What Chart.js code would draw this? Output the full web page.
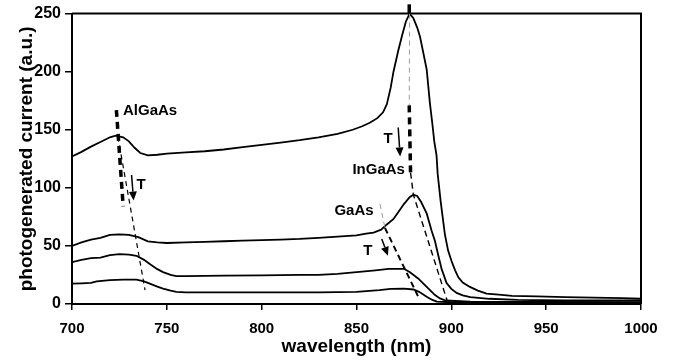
<!DOCTYPE html>
<html>
<head>
<meta charset="utf-8">
<script src="https://cdn.jsdelivr.net/npm/chart.js@4.4.1/dist/chart.umd.min.js"></script>
<style>
html,body{margin:0;padding:0;background:#fff;}
canvas{display:block;}
</style>
</head>
<body>
<canvas id="c" width="682" height="363"></canvas>
<script>
// ---- data (wavelength nm, photocurrent a.u.) ----
const xTicks = [700, 750, 800, 850, 900, 950, 1000];
const yTicks = [0, 50, 100, 150, 200, 250];

const curve1 = [[700,127],[705,131],[710,135.5],[715,139.5],[720,143.5],[723,145],[727,143.5],[730,140],[733,134.5],[736,130],[740,128],[745,128.5],[750,129.5],[760,130.5],[770,131.5],[780,133],[790,135],[800,137],[810,139],[820,141],[830,143.5],[840,146.5],[848,150],[853,153],[857,156],[861,160],[864,165],[866,172],[868,186],[869.5,200],[872,218],[874,231],[876,243],[878,250],[880,246],[882,238],[883.5,230],[885,218],[887,202],[888.7,173],[890,155],[891,140],[892.2,128],[892.8,112],[894.4,88],[896.6,60],[898.3,46],[900.1,37],[902,29],[903.7,23],[906,18.5],[909.8,14.7],[914,11.5],[918.6,9],[925,8],[932,7],[945,6.5],[960,6],[975,5.5],[990,5],[1000,4.5]];

const curve2 = [[700,50],[705,53],[710,55.5],[715,57],[720,59.5],[725,60],[730,59.5],[735,57.5],[740,54],[745,53],[750,52.5],[760,53],[770,53.5],[780,54],[790,54.5],[800,55],[810,55.5],[820,56],[830,57],[840,58],[850,59],[855,60.5],[859,61.5],[863,64],[866,68.5],[869.4,73],[872,79],[875,86],[878,92],[880,94],[882,93],[884,88],[887,78],[889.6,63],[891.4,54],[893.1,42],[894.9,30],[897.5,18],[900,13],[902.8,9.5],[906,7.5],[910,6],[920,4.5],[935,3.5],[960,3],[1000,3]];

const curve3 = [[700,36],[705,38],[710,39.5],[715,40],[720,42],[725,43],[730,42.5],[734,41.5],[738,38],[741,34.5],[745,30],[748,27.5],[752,25],[755,24],[760,24],[780,24.5],[800,24.7],[820,25],[830,25],[840,26],[850,27.5],[860,29],[867,30.3],[875,30.3],[878,27.5],[882.5,22],[887,14.7],[891.4,7.7],[894,4.8],[897,3],[910,2],[1000,1.5]];

const curve4 = [[700,17.5],[705,17.8],[710,18.2],[713,19.5],[720,20.5],[727,21],[734,21],[738,19.5],[741,17.6],[745,15],[748,13.3],[752,11.5],[755,10.5],[760,10],[780,10],[800,10],[830,10],[850,10.5],[862,12],[868,13],[875,13.3],[880,12.5],[883,10.5],[887,6.2],[890,3.5],[892.3,2],[900,1.5],[1000,1]];

// annotation guides (data units)
const algaasThick = [[723.4,167],[727,84]];
const algaasThin  = [[724.2,144],[738.5,12]];
const ingaasTop   = [[877.8,258],[877.8,250]];
const ingaasGrey  = [[878,250],[877.8,171]];
const ingaasThick = [[877.8,171],[878.5,113]];
const ingaasThin  = [[878.5,113],[880,94],[897.7,3.4]];
const gaasGrey    = [[862.4,86],[865,65.5]];
const gaasDash    = [[865,65.5],[882.4,6.8]];
const arrowsT     = [[[731.4,111],[732.5,89]], [[872,152],[873,127]], [[863.3,56],[866.6,41.5]]];
const labelT      = [[736.4,102.7],[866.6,142],[856,46]];
const labelNames  = ['AlGaAs', 'InGaAs', 'GaAs'];
const labelPos    = [[726.9,166.7],[861.7,115.6],[848.7,80]];

const FONT = '"Liberation Sans", Arial, Helvetica, sans-serif';
const toPts = a => a.map(p => ({x: p[0], y: p[1]}));

const mkSet = (d) => ({data: toPts(d), borderColor: '#000', borderWidth: 1.8, pointRadius: 0, fill: false, tension: 0});

const framePlugin = {
  id: 'frame',
  afterDatasetsDraw(chart) {
    const {ctx, chartArea: a} = chart;
    ctx.save();
    ctx.strokeStyle = '#000';
    ctx.lineWidth = 2;
    ctx.beginPath();
    ctx.moveTo(a.left, a.top);
    ctx.lineTo(a.right, a.top);
    ctx.lineTo(a.right, a.bottom);
    ctx.stroke();
    ctx.restore();
  }
};

const annoPlugin = {
  id: 'anno',
  afterDatasetsDraw(chart) {
    const {ctx} = chart;
    const xs = chart.scales.x, ys = chart.scales.y;
    const P = p => [xs.getPixelForValue(p[0]), ys.getPixelForValue(p[1])];
    const poly = (pts, w, dash, col) => {
      ctx.save();
      ctx.strokeStyle = col || '#000';
      ctx.lineWidth = w;
      ctx.setLineDash(dash);
      ctx.beginPath();
      pts.forEach((p, i) => { const q = P(p); i ? ctx.lineTo(q[0], q[1]) : ctx.moveTo(q[0], q[1]); });
      ctx.stroke();
      ctx.restore();
    };
    poly(algaasThin, 1.2, [5, 4]);
    poly(algaasThick, 3.5, [7, 5]);
    poly(ingaasGrey, 1, [5, 4], '#9a9a9a');
    poly(ingaasTop, 3.5, []);
    poly(ingaasThick, 3.5, [7, 5]);
    poly(ingaasThin, 1.4, [6, 4]);
    poly(gaasGrey, 1, [5, 4], '#9a9a9a');
    poly(gaasDash, 2, [6, 4]);
    // arrows
    arrowsT.forEach(seg => {
      const a = P(seg[0]), b = P(seg[1]);
      const ang = Math.atan2(b[1] - a[1], b[0] - a[0]);
      const hl = 9, hw = 4;
      ctx.save();
      ctx.strokeStyle = '#000'; ctx.fillStyle = '#000'; ctx.lineWidth = 1.5;
      ctx.beginPath();
      ctx.moveTo(a[0], a[1]);
      ctx.lineTo(b[0] - hl * Math.cos(ang), b[1] - hl * Math.sin(ang));
      ctx.stroke();
      ctx.beginPath();
      ctx.moveTo(b[0], b[1]);
      ctx.lineTo(b[0] - hl * Math.cos(ang) + hw * Math.sin(ang), b[1] - hl * Math.sin(ang) - hw * Math.cos(ang));
      ctx.lineTo(b[0] - hl * Math.cos(ang) - hw * Math.sin(ang), b[1] - hl * Math.sin(ang) + hw * Math.cos(ang));
      ctx.closePath();
      ctx.fill();
      ctx.restore();
    });
    // labels
    ctx.save();
    ctx.fillStyle = '#000';
    ctx.font = 'bold 15px ' + FONT;
    ctx.textBaseline = 'middle';
    labelNames.forEach((t, i) => {
      const q = P(labelPos[i]);
      ctx.textAlign = i === 0 ? 'left' : 'center';
      ctx.fillText(t, q[0], q[1]);
    });
    ctx.textAlign = 'center';
    labelT.forEach(p => { const q = P(p); ctx.fillText('T', q[0], q[1]); });
    ctx.restore();
  }
};

new Chart(document.getElementById('c'), {
  type: 'line',
  data: { datasets: [mkSet(curve1), mkSet(curve2), mkSet(curve3), mkSet(curve4)] },
  options: {
    responsive: false,
    animation: false,
    layout: { padding: { top: 10, right: 41, left: 0, bottom: 0 } },
    plugins: { legend: { display: false }, tooltip: { enabled: false } },
    scales: {
      x: {
        type: 'linear', min: 700, max: 1000,
        afterBuildTicks: s => { s.ticks = xTicks.map(v => ({value: v})); },
        afterFit: s => { s.height = 59; },
        grid: { display: true, drawOnChartArea: false, drawTicks: true, tickLength: 6, color: '#000', lineWidth: 1.5 },
        border: { display: true, color: '#000', width: 2 },
        ticks: { color: '#000', padding: 10, maxRotation: 0, callback: v => String(v), font: { family: FONT, size: 15, weight: 'bold' } },
        title: { display: true, text: 'wavelength (nm)', color: '#000', padding: { top: 0, bottom: 5 }, font: { family: FONT, size: 19, weight: 'bold' } }
      },
      y: {
        type: 'linear', min: 0, max: 250,
        afterBuildTicks: s => { s.ticks = yTicks.map(v => ({value: v})); },
        afterFit: s => { s.width = 72; },
        grid: { display: true, drawOnChartArea: false, drawTicks: true, tickLength: 7, color: '#000', lineWidth: 1.5 },
        border: { display: true, color: '#000', width: 2 },
        ticks: { color: '#000', padding: 4, callback: v => String(v), font: { family: FONT, size: 16, weight: 'bold' } },
        title: { display: true, text: 'photogenerated current (a.u.)', color: '#000', padding: { top: 15, bottom: 0 }, font: { family: FONT, size: 19, weight: 'bold' } }
      }
    }
  },
  plugins: [framePlugin, annoPlugin]
});
</script>
</body>
</html>
